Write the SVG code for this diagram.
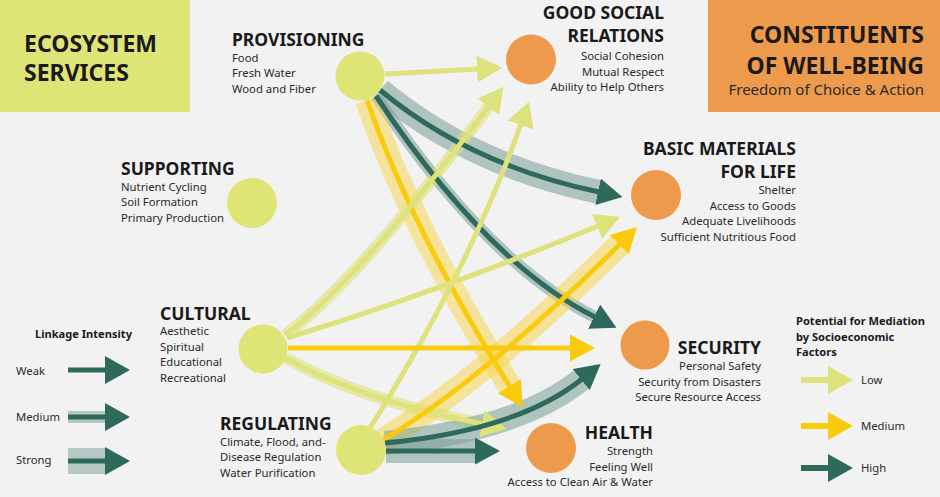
<svg xmlns="http://www.w3.org/2000/svg" width="940" height="497" viewBox="0 0 940 497">
<defs>
<style>
.t{font-family:"Noto Sans","Open Sans",sans-serif;fill:#1a1a1a}
.h{font-weight:700;font-size:17.5px}
.b{font-size:11.3px;fill:#2a2a2a}
.big{font-weight:700;font-size:23px}
.lg{font-weight:700;font-size:11.1px}
.r{text-anchor:end}
.core{fill:none;stroke-width:5;stroke-linecap:butt}
.band{fill:none;stroke-linecap:butt}
.dk{stroke:#2e6a5c}
.yl{stroke:#f9cb0c}
.lt{stroke:#dde27c}
.bdk{stroke:#7a9e96;stroke-opacity:.55}
.byl{stroke:#f7d444;stroke-opacity:.5}
.blt{stroke:#dde27c;stroke-opacity:.6}
.s{stroke-width:24}
.m{stroke-width:12}
.eco{fill:#dfe476}
.wb{fill:#ee9a4c}
</style>
<marker id="ad" markerUnits="userSpaceOnUse" markerWidth="25" markerHeight="27" refX="1" refY="13.5" orient="auto"><path d="M0,0 L25,13.5 L0,27 Z" fill="#2e6a5c"/></marker>
<marker id="ay" markerUnits="userSpaceOnUse" markerWidth="25" markerHeight="27" refX="1" refY="13.5" orient="auto"><path d="M0,0 L25,13.5 L0,27 Z" fill="#f9cb0c"/></marker>
<marker id="al" markerUnits="userSpaceOnUse" markerWidth="25" markerHeight="27" refX="1" refY="13.5" orient="auto"><path d="M0,0 L25,13.5 L0,27 Z" fill="#dde27c"/></marker>
</defs>
<rect width="940" height="497" fill="#f2f2f2"/>

<g id="title-ecosystem">
<rect x="0" y="0" width="190" height="112" class="eco"/>
<text class="t big" x="24" y="52">ECOSYSTEM</text>
<text class="t big" x="24" y="81">SERVICES</text>
</g>
<g id="title-wellbeing">
<rect x="708" y="0" width="232" height="112" class="wb"/>
<text class="t big r" x="924" y="43">CONSTITUENTS</text>
<text class="t big r" x="924" y="74">OF WELL-BEING</text>
<text class="t r" x="924" y="95" style="font-size:15px;fill:#2a2a2a">Freedom of Choice &amp; Action</text>
</g>

<g id="connectors">
<!-- bands -->
<path class="band bdk s" d="M380,90 Q470,165 599,192"/>
<path class="band bdk m" d="M376,96 Q487,263 595,317"/>
<path class="band byl s" d="M367,100 Q412,230 510,387"/>
<path class="band blt m" d="M285,335 Q357,282 489,106"/>
<path class="band blt m" d="M286,358 Q360,400 483,424"/>
<path class="band byl s" d="M383,440 Q485,378 620,244"/>
<path class="band bdk s" d="M385,443 Q519,430 582,379"/>
<path class="band bdk s" d="M386,451 L476,451"/>
<!-- cores -->
<path class="core lt" d="M385,74 L478,69" marker-end="url(#al)"/>
<path class="core dk" d="M380,90 Q470,165 599,192" marker-end="url(#ad)"/>
<path class="core dk" d="M376,96 Q487,263 595,317" marker-end="url(#ad)"/>
<path class="core yl" d="M367,100 Q412,230 510,387" marker-end="url(#ay)"/>
<path class="core lt" d="M285,335 Q357,282 489,106" marker-end="url(#al)"/>
<path class="core lt" d="M370,428 Q469,270 521,124" marker-end="url(#al)"/>
<path class="core lt" d="M287,338 Q440,291 598,226" marker-end="url(#al)"/>
<path class="core yl" d="M288,348 L571,348" marker-end="url(#ay)"/>
<path class="core lt" d="M286,358 Q360,400 483,424" marker-end="url(#al)"/>
<path class="core yl" d="M383,440 Q485,378 620,244" marker-end="url(#ay)"/>
<path class="core dk" d="M385,443 Q519,430 582,379" marker-end="url(#ad)"/>
<path class="core dk" d="M386,451 L476,451" marker-end="url(#ad)"/>
</g>

<g id="node-provisioning">
<circle cx="360" cy="76" r="24.5" class="eco"/>
<text class="t h" x="232" y="46">PROVISIONING</text>
<text class="t b" x="232" y="61.5">Food</text>
<text class="t b" x="232" y="77">Fresh Water</text>
<text class="t b" x="232" y="92.5">Wood and Fiber</text>
</g>
<g id="node-supporting">
<circle cx="252" cy="203" r="25" class="eco"/>
<text class="t h" x="121" y="175">SUPPORTING</text>
<text class="t b" x="121" y="190.5">Nutrient Cycling</text>
<text class="t b" x="121" y="206">Soil Formation</text>
<text class="t b" x="121" y="221.5">Primary Production</text>
</g>
<g id="node-cultural">
<circle cx="263" cy="349" r="24.5" class="eco"/>
<text class="t h" x="160" y="319.5">CULTURAL</text>
<text class="t b" x="160" y="335">Aesthetic</text>
<text class="t b" x="160" y="350.5">Spiritual</text>
<text class="t b" x="160" y="366">Educational</text>
<text class="t b" x="160" y="381.5">Recreational</text>
</g>
<g id="node-regulating">
<circle cx="361" cy="450" r="25" class="eco"/>
<text class="t h" x="220" y="430">REGULATING</text>
<text class="t b" x="220" y="446">Climate, Flood, and-</text>
<text class="t b" x="220" y="461">Disease Regulation</text>
<text class="t b" x="220" y="476.5">Water Purification</text>
</g>
<g id="node-social">
<circle cx="531" cy="59.5" r="25" class="wb"/>
<text class="t h r" x="664" y="19">GOOD SOCIAL</text>
<text class="t h r" x="664" y="42">RELATIONS</text>
<text class="t b r" x="664" y="60">Social Cohesion</text>
<text class="t b r" x="664" y="75.5">Mutual Respect</text>
<text class="t b r" x="664" y="91">Ability to Help Others</text>
</g>
<g id="node-materials">
<circle cx="656" cy="195" r="25" class="wb"/>
<text class="t h r" x="796" y="155">BASIC MATERIALS</text>
<text class="t h r" x="796" y="178">FOR LIFE</text>
<text class="t b r" x="796" y="194">Shelter</text>
<text class="t b r" x="796" y="209.5">Access to Goods</text>
<text class="t b r" x="796" y="225">Adequate Livelihoods</text>
<text class="t b r" x="796" y="240.5">Sufficient Nutritious Food</text>
</g>
<g id="node-security">
<circle cx="645" cy="345" r="24.5" class="wb"/>
<text class="t h r" x="761" y="354">SECURITY</text>
<text class="t b r" x="761" y="370">Personal Safety</text>
<text class="t b r" x="761" y="385.5">Security from Disasters</text>
<text class="t b r" x="761" y="401">Secure Resource Access</text>
</g>
<g id="node-health">
<circle cx="551" cy="448" r="25" class="wb"/>
<text class="t h r" x="653" y="439">HEALTH</text>
<text class="t b r" x="653" y="455">Strength</text>
<text class="t b r" x="653" y="470.5">Feeling Well</text>
<text class="t b r" x="653" y="486">Access to Clean Air &amp; Water</text>
</g>

<g id="legend-intensity">
<text class="t lg" x="35" y="338">Linkage Intensity</text>
<text class="t b" x="16" y="375">Weak</text>
<text class="t b" x="16" y="421">Medium</text>
<text class="t b" x="16" y="464">Strong</text>
<rect x="68" y="367.5" width="38" height="5" fill="#2e6a5c"/>
<path d="M105,356 L130,370 L105,384 Z" fill="#2e6a5c"/>
<rect x="68" y="411" width="38" height="12" fill="#b6c8c4"/>
<rect x="68" y="414.5" width="38" height="5" fill="#2e6a5c"/>
<path d="M105,403 L130,417 L105,431 Z" fill="#2e6a5c"/>
<rect x="68" y="448" width="38" height="26" fill="#b6c8c4"/>
<rect x="68" y="458.5" width="38" height="5" fill="#2e6a5c"/>
<path d="M105,447 L130,461 L105,475 Z" fill="#2e6a5c"/>
</g>

<g id="legend-mediation">
<text class="t lg" x="796" y="325">Potential for Mediation</text>
<text class="t lg" x="796" y="341">by Socioeconomic</text>
<text class="t lg" x="796" y="356">Factors</text>
<text class="t b" x="861" y="384">Low</text>
<text class="t b" x="861" y="430">Medium</text>
<text class="t b" x="861" y="472">High</text>
<rect x="801" y="377" width="29" height="6" fill="#dde27c"/>
<path d="M828,366 L853,380 L828,394 Z" fill="#dde27c"/>
<rect x="801" y="423" width="29" height="6" fill="#f9cb0c"/>
<path d="M828,412 L853,426 L828,440 Z" fill="#f9cb0c"/>
<rect x="801" y="465" width="29" height="6" fill="#2e6a5c"/>
<path d="M828,454 L853,468 L828,482 Z" fill="#2e6a5c"/>
</g>
</svg>
